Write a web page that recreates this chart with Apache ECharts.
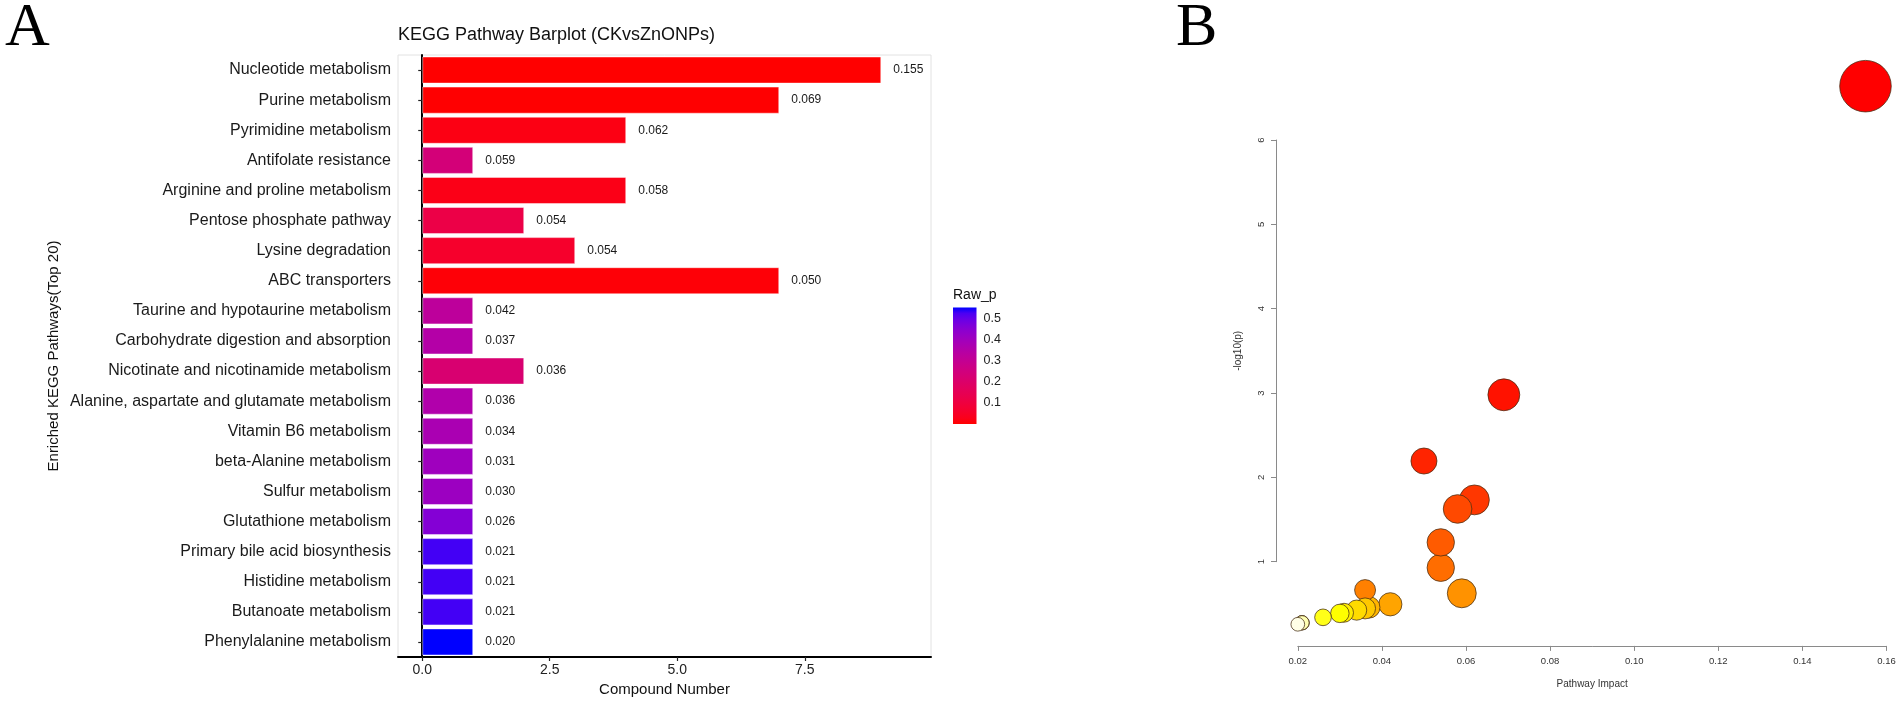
<!DOCTYPE html>
<html>
<head>
<meta charset="utf-8">
<script src="https://cdn.jsdelivr.net/npm/echarts@6/dist/echarts.min.js"></script>
<style>
html,body{margin:0;padding:0;background:#fff;}
#chart{width:1902px;height:702px;}
</style>
</head>
<body>
<div id="chart"></div>
<script>
// ---------------- data ----------------
const pathways = [
  'Nucleotide metabolism',
  'Purine metabolism',
  'Pyrimidine metabolism',
  'Antifolate resistance',
  'Arginine and proline metabolism',
  'Pentose phosphate pathway',
  'Lysine degradation',
  'ABC transporters',
  'Taurine and hypotaurine metabolism',
  'Carbohydrate digestion and absorption',
  'Nicotinate and nicotinamide metabolism',
  'Alanine, aspartate and glutamate metabolism',
  'Vitamin B6 metabolism',
  'beta-Alanine metabolism',
  'Sulfur metabolism',
  'Glutathione metabolism',
  'Primary bile acid biosynthesis',
  'Histidine metabolism',
  'Butanoate metabolism',
  'Phenylalanine metabolism'
];
const compoundCount = [9, 7, 4, 1, 4, 2, 3, 7, 1, 1, 2, 1, 1, 1, 1, 1, 1, 1, 1, 1];
const impact = [0.155, 0.069, 0.062, 0.059, 0.058, 0.054, 0.054, 0.050, 0.042, 0.037,
                0.036, 0.036, 0.034, 0.031, 0.030, 0.026, 0.021, 0.021, 0.021, 0.020];
const rawP = [2.3e-7, 0.00105, 0.0185, 0.237, 0.0237, 0.118, 0.059, 0.0064, 0.32, 0.348,
              0.217, 0.358, 0.375, 0.403, 0.41, 0.457, 0.53, 0.53, 0.53, 0.552];
const barTicks = [0, 2.5, 5, 7.5];
const legendTicks = [0.1, 0.2, 0.3, 0.4, 0.5];
const titleA = 'KEGG Pathway Barplot (CKvsZnONPs)';

// ---------------- colour helpers ----------------
const LAB_RED = [53.2408, 80.0925, 67.2032];
const LAB_BLUE = [32.2970, 79.1875, -107.8602];
function labToHex(L, a, b) {
  const fy = (L + 16) / 116, fx = fy + a / 500, fz = fy - b / 200;
  const f = t => t > 0.206893 ? t * t * t : (t - 16 / 116) / 7.787;
  const X = 0.95047 * f(fx), Y = f(fy), Z = 1.08883 * f(fz);
  let r = 3.2404542 * X - 1.5371385 * Y - 0.4985314 * Z;
  let g = -0.9692660 * X + 1.8760108 * Y + 0.0415560 * Z;
  let bb = 0.0556434 * X - 0.2040259 * Y + 1.0572252 * Z;
  const gam = c => { c = Math.max(0, Math.min(1, c)); return c <= 0.0031308 ? 12.92 * c : 1.055 * Math.pow(c, 1 / 2.4) - 0.055; };
  const h = c => ('0' + Math.round(gam(c) * 255).toString(16)).slice(-2);
  return '#' + h(r) + h(g) + h(bb);
}
const pMin = Math.min(...rawP), pMax = Math.max(...rawP);
function pColor(p) {
  const t = (p - pMin) / (pMax - pMin);
  return labToHex(LAB_RED[0] + (LAB_BLUE[0] - LAB_RED[0]) * t,
                  LAB_RED[1] + (LAB_BLUE[1] - LAB_RED[1]) * t,
                  LAB_RED[2] + (LAB_BLUE[2] - LAB_RED[2]) * t);
}
// R heat.colors by rank of p
const order = rawP.map((p, i) => i).sort((a, b) => rawP[a] - rawP[b] || a - b);
const rankOf = [];
order.forEach((idx, r) => { rankOf[idx] = r; });
function heatColor(rank, n) {
  const j = Math.floor(n / 4), i = n - j;
  let h, s;
  if (rank < i) { h = (i > 1 ? rank / (i - 1) : 0) / 6; s = 1; }
  else { const k = rank - i; const s0 = 1 - 1 / (2 * j), s1 = 1 / (2 * j); s = j > 1 ? s0 + (s1 - s0) * k / (j - 1) : s0; h = 1 / 6; }
  const f6 = h * 6;
  const r = 1, g = 1 - s * (1 - f6), b = 1 - s;
  const hx = c => ('0' + Math.round(c * 255).toString(16)).slice(-2);
  return '#' + hx(r) + hx(g) + hx(b);
}

const gradStops = [];
for (let k = 0; k <= 20; k++) {
  const t = k / 20;
  gradStops.push({ offset: t, color: pColor(pMin + (pMax - pMin) * t) });
}

const chart = echarts.init(document.getElementById('chart'), null, { renderer: 'canvas' });
const FONT = 'Liberation Sans, Arial, Helvetica, sans-serif';

const option = {
  animation: false,
  backgroundColor: '#ffffff',
  textStyle: { fontFamily: FONT },
  grid: [
    { left: 398, right: 971, top: 55, bottom: 45, show: true, borderColor: '#e2e2e2', borderWidth: 1, backgroundColor: 'transparent' },
    { left: 953, width: 23.5, top: 307.5, height: 116.5 },
    { left: 1297.8, right: 15.5, top: 140, bottom: 140.3 }
  ],
  xAxis: [
    {
      gridIndex: 0, type: 'value', min: -0.475, max: 9.975,
      splitLine: { show: false },
      axisLine: { show: true, lineStyle: { color: '#000', width: 2 } },
      axisTick: { show: true, length: 4, lineStyle: { color: '#222', width: 1.2 }, customValues: barTicks },
      axisLabel: { customValues: barTicks, formatter: v => v.toFixed(1), fontSize: 14, color: '#222', margin: 6, fontFamily: FONT },
      name: 'Compound Number', nameLocation: 'middle', nameGap: 22,
      nameTextStyle: { fontSize: 15, color: '#111', fontFamily: FONT }
    },
    {
      gridIndex: 1, type: 'category', data: ['p'], show: false
    },
    {
      gridIndex: 2, type: 'value', min: 0.02, max: 0.16, interval: 0.02, offset: 84.2,
      splitLine: { show: false },
      axisLine: { show: true, lineStyle: { color: '#8a8a8a', width: 1 } },
      axisTick: { show: true, length: 5, lineStyle: { color: '#8a8a8a', width: 1 } },
      axisLabel: { formatter: v => v.toFixed(2), fontSize: 9.5, color: '#333', margin: 10, fontFamily: FONT },
      name: 'Pathway Impact', nameLocation: 'middle', nameGap: 33,
      nameTextStyle: { fontSize: 10, color: '#333', fontFamily: FONT }
    }
  ],
  yAxis: [
    {
      gridIndex: 0, type: 'category', data: pathways, inverse: true,
      axisLine: { show: true, lineStyle: { color: '#000', width: 2 } },
      axisTick: { show: true, alignWithLabel: true, length: 4, lineStyle: { color: '#222', width: 1.2 } },
      axisLabel: { fontSize: 16, color: '#1a1a1a', margin: 7, fontFamily: FONT },
      name: 'Enriched KEGG Pathways(Top 20)', nameLocation: 'middle', nameGap: 337,
      nameTextStyle: { fontSize: 15, color: '#111', fontFamily: FONT }
    },
    {
      gridIndex: 1, type: 'value', min: 0, max: pMax, position: 'right',
      splitLine: { show: false },
      axisLine: { show: false },
      axisTick: { show: true, inside: true, length: 5, customValues: legendTicks, lineStyle: { color: 'rgba(255,255,255,0.75)', width: 1 } },
      axisLabel: { customValues: legendTicks, formatter: v => v.toFixed(1), fontSize: 12.5, color: '#222', margin: 7, fontFamily: FONT }
    },
    {
      gridIndex: 1, type: 'value', min: 0, max: pMax, position: 'left',
      splitLine: { show: false },
      axisLine: { show: false },
      axisTick: { show: true, inside: true, length: 5, customValues: legendTicks, lineStyle: { color: 'rgba(255,255,255,0.75)', width: 1 } },
      axisLabel: { show: false }
    },
    {
      gridIndex: 2, type: 'value', min: 1, max: 6, interval: 1, offset: 21.8,
      splitLine: { show: false },
      axisLine: { show: true, lineStyle: { color: '#8a8a8a', width: 1 } },
      axisTick: { show: true, length: 5, lineStyle: { color: '#8a8a8a', width: 1 } },
      axisLabel: { rotate: 90, fontSize: 9.5, color: '#333', margin: 10, fontFamily: FONT },
      name: '-log10(p)', nameLocation: 'middle', nameGap: 33,
      nameTextStyle: { fontSize: 10, color: '#333', fontFamily: FONT }
    }
  ],
  series: [
    {
      type: 'bar', xAxisIndex: 0, yAxisIndex: 0,
      data: compoundCount,
      barWidth: '90%',
      itemStyle: {
        color: p => pColor(rawP[p.dataIndex]),
        borderColor: 'rgba(255,255,255,0.45)', borderWidth: 1
      },
      label: {
        show: true, position: 'right', distance: 12,
        formatter: p => impact[p.dataIndex].toFixed(3),
        fontSize: 12, color: '#1a1a1a', fontFamily: FONT
      }
    },
    {
      type: 'bar', xAxisIndex: 1, yAxisIndex: 1,
      data: [pMax], barWidth: '100%', silent: true,
      itemStyle: {
        color: new echarts.graphic.LinearGradient(0, 1, 0, 0, gradStops)
      }
    },
    {
      type: 'scatter', xAxisIndex: 2, yAxisIndex: 3, clip: false,
      data: impact.map((x, i) => [x, -Math.log10(rawP[i])]),
      symbolSize: v => 150 * Math.sqrt(v[0]) - 7.5,
      itemStyle: {
        color: p => heatColor(rankOf[p.dataIndex], rawP.length),
        borderColor: 'rgba(70,45,20,0.75)', borderWidth: 1, opacity: 1
      }
    }
  ],
  graphic: [
    { type: 'text', x: 5, y: 29, style: { text: 'A', font: '62px "Liberation Serif", "Times New Roman", serif', fill: '#000', align: 'left', verticalAlign: 'middle' } },
    { type: 'text', x: 1176, y: 29, style: { text: 'B', font: '62px "Liberation Serif", "Times New Roman", serif', fill: '#000', align: 'left', verticalAlign: 'middle' } },
    { type: 'text', x: 398, y: 35, style: { text: titleA, font: '18px ' + FONT, fill: '#111', align: 'left', verticalAlign: 'middle' } },
    { type: 'text', x: 953, y: 295, style: { text: 'Raw_p', font: '14px ' + FONT, fill: '#111', align: 'left', verticalAlign: 'middle' } }
  ]
};
chart.setOption(option);
</script>
</body>
</html>
